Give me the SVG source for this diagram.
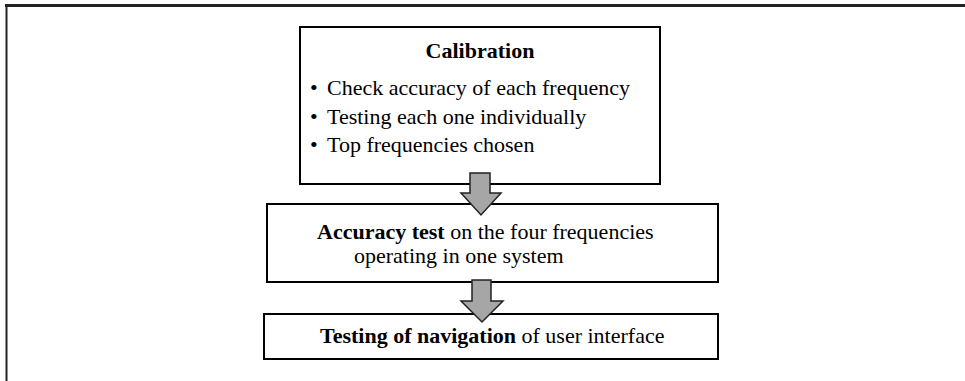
<svg xmlns="http://www.w3.org/2000/svg" width="965" height="381" viewBox="0 0 965 381">
<style>
.box{fill:#fff;stroke:#000;stroke-width:2}
.arrow{fill:#a6a6a6;stroke:#222;stroke-width:1.5;stroke-linejoin:miter}
text{font-family:"Liberation Serif","Times New Roman",serif;font-size:22px;fill:#000}
.b{font-weight:bold}
</style>
<rect width="965" height="381" fill="#fff"/>
<g id="frame">
<line x1="5" y1="5.5" x2="965" y2="5.5" stroke="#222" stroke-width="3"/>
<line x1="6.5" y1="4" x2="6.5" y2="381" stroke="#222" stroke-width="2"/>
</g>
<g id="calibration">
<rect class="box" x="300" y="27" width="360" height="157"/>
<text class="b" x="480" y="58" text-anchor="middle">Calibration</text>
<text x="310" y="95">•</text><text x="327" y="95">Check accuracy of each frequency</text>
<text x="310" y="123.5">•</text><text x="327" y="123.5">Testing each one individually</text>
<text x="310" y="152">•</text><text x="327" y="152">Top frequencies chosen</text>
</g>
<g id="accuracy">
<rect class="box" x="267" y="204" width="451" height="78"/>
<text x="317" y="239"><tspan class="b">Accuracy test</tspan> on the four frequencies</text>
<text x="354" y="263">operating in one system</text>
</g>
<g id="navigation">
<rect class="box" x="264" y="314" width="454" height="45"/>
<text x="320" y="343"><tspan class="b">Testing of navigation</tspan> of user interface</text>
</g>
<g id="connectors">
<polygon class="arrow" points="470,173 490,173 490,193 501,193 481,215 461,193 470,193"/>
<polygon class="arrow" points="472,280 491,280 491,301 503,301 482,322 461,301 472,301"/>
</g>
</svg>
